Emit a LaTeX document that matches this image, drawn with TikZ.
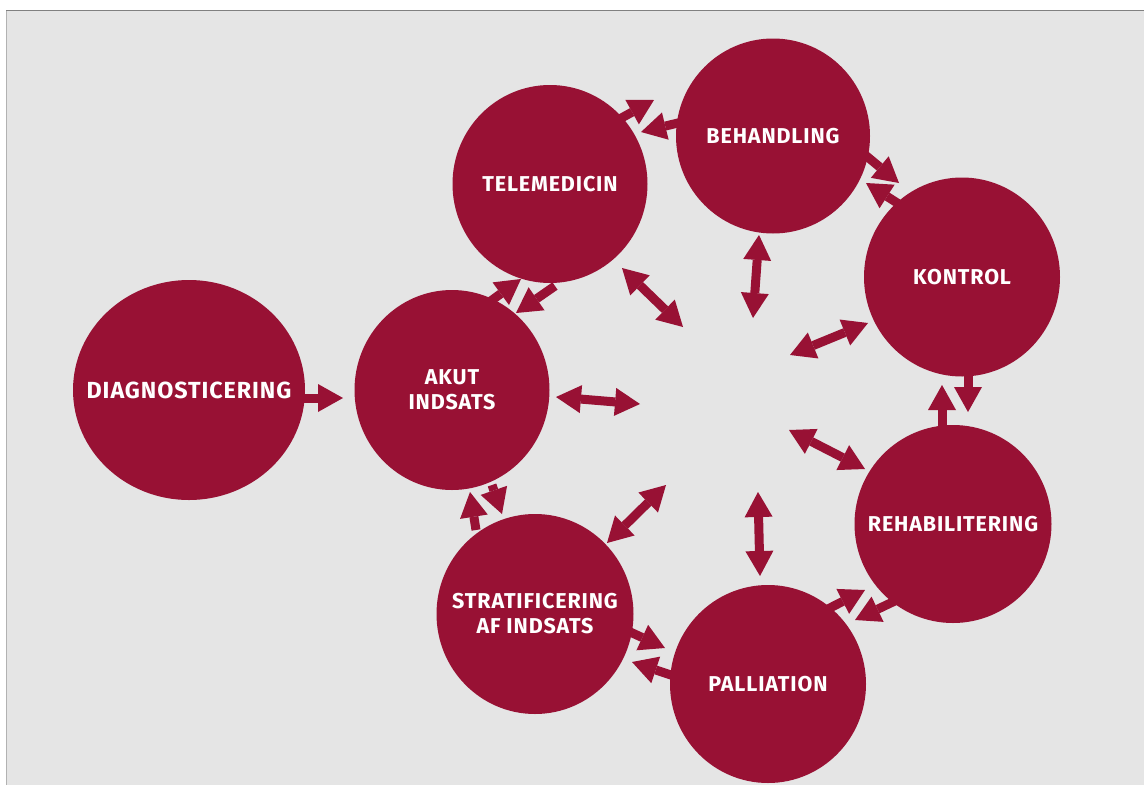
\documentclass[tikz,border=0pt]{standalone}
\usepackage{fontspec}
\setmainfont{Fira Sans}[LetterSpace=4]
\usetikzlibrary{arrows.meta,shapes.geometric}
\definecolor{crim}{RGB}{152,17,52}
\definecolor{bg}{RGB}{229,229,229}
\tikzset{
  blob/.style={ellipse, fill=crim, inner sep=0pt},
  lbl/.style={text=white, align=center, inner sep=0pt,
    font=\bfseries\fontsize{21.5}{25}\selectfont},
  onearrow/.style={draw=crim, line width=9pt,
    -{Triangle[length=25pt,width=28pt,line width=0pt]}},
  twoarrow/.style={draw=crim, line width=9pt,
    {Triangle[length=25pt,width=28pt,line width=0pt]}-{Triangle[length=25pt,width=28pt,line width=0pt]}}
}
\begin{document}
\begin{tikzpicture}[x=1pt,y=-1pt]
\useasboundingbox (0,0) rectangle (1144,785);
\fill[white] (0,0) rectangle (1144,785);
\fill[bg] (6,10) rectangle (1144,785);
\draw[gray!60, line width=1pt] (6.5,10) -- (6.5,785);
\draw[gray, line width=1.2pt] (6,10.5) -- (1144,10.5);

% blobs
\node[blob, minimum width=232pt, minimum height=220pt,
  label={[lbl, font=\bfseries\fontsize{23.3}{28}\selectfont]center:DIAGNOSTICERING}] (diag) at (189,390) {};
\node[blob, minimum width=195pt, minimum height=200pt, label={[lbl]center:AKUT\\INDSATS}] (akut) at (452,390) {};
\node[blob, minimum width=195pt, minimum height=198pt, label={[lbl]center:TELEMEDICIN}] (tele) at (550,184) {};
\node[blob, minimum width=194pt, minimum height=195pt, label={[lbl]center:BEHANDLING}] (beh) at (773,136) {};
\node[blob, minimum width=196pt, minimum height=199pt, label={[lbl]center:KONTROL}] (kon) at (962,277) {};
\node[blob, minimum width=197pt, minimum height=198pt, label={[lbl]center:REHABILITERING}] (rehab) at (953,524) {};
\node[blob, minimum width=196pt, minimum height=198pt, label={[lbl]center:PALLIATION}] (pall) at (768,684) {};
\node[blob, minimum width=197pt, minimum height=200pt, label={[lbl]center:STRATIFICERING\\AF INDSATS}] (strat) at (535,614) {};

% arrow end points
\coordinate (d1) at (303,398);  \coordinate (d2) at (343,398);
\coordinate (at1) at (488,303); \coordinate (at2) at (521,279);
\coordinate (ta1) at (555,286); \coordinate (ta2) at (516,313);
\coordinate (tb1) at (616,121); \coordinate (tb2) at (654,100);
\coordinate (bt1) at (682,122); \coordinate (bt2) at (641,132);
\coordinate (bk1) at (864,154); \coordinate (bk2) at (899,183);
\coordinate (kb1) at (902,206); \coordinate (kb2) at (866,183);
\coordinate (kr1) at (968,375); \coordinate (kr2) at (968,412);
\coordinate (rk1) at (942,427); \coordinate (rk2) at (942,385);
\coordinate (pr1) at (824,611); \coordinate (pr2) at (865,590);
\coordinate (rp1) at (899,599); \coordinate (rp2) at (855,620);
\coordinate (sp1) at (628,631); \coordinate (sp2) at (665,648);
\coordinate (ps1) at (674,676); \coordinate (ps2) at (632,662);
\coordinate (as1) at (492,485); \coordinate (as2) at (502,514);
\coordinate (sa1) at (476,530); \coordinate (sa2) at (470,492);
% double arrows
\coordinate (ca1) at (556,397); \coordinate (ca2) at (640,404);
\coordinate (ct1) at (622,268); \coordinate (ct2) at (683,327);
\coordinate (cb1) at (759,235); \coordinate (cb2) at (753,318);
\coordinate (ck1) at (868,323); \coordinate (ck2) at (790,355);
\coordinate (cr1) at (789,430); \coordinate (cr2) at (865,469);
\coordinate (cp1) at (758,492); \coordinate (cp2) at (760,576);
\coordinate (cs1) at (666,485); \coordinate (cs2) at (607,543);

\draw[onearrow] (d1) -- (d2);
\draw[onearrow] (at1) -- (at2);
\draw[onearrow] (ta1) -- (ta2);
\draw[onearrow] (tb1) -- (tb2);
\draw[onearrow] (bt1) -- (bt2);
\draw[onearrow] (bk1) -- (bk2);
\draw[onearrow] (kb1) -- (kb2);
\draw[onearrow] (kr1) -- (kr2);
\draw[onearrow] (rk1) -- (rk2);
\draw[onearrow] (pr1) -- (pr2);
\draw[onearrow] (rp1) -- (rp2);
\draw[onearrow] (sp1) -- (sp2);
\draw[onearrow] (ps1) -- (ps2);
\draw[onearrow] (as1) -- (as2);
\draw[onearrow] (sa1) -- (sa2);

\draw[twoarrow] (ca1) -- (ca2);
\draw[twoarrow] (ct1) -- (ct2);
\draw[twoarrow] (cb1) -- (cb2);
\draw[twoarrow] (ck1) -- (ck2);
\draw[twoarrow] (cr1) -- (cr2);
\draw[twoarrow] (cp1) -- (cp2);
\draw[twoarrow] (cs1) -- (cs2);
\end{tikzpicture}
\end{document}
